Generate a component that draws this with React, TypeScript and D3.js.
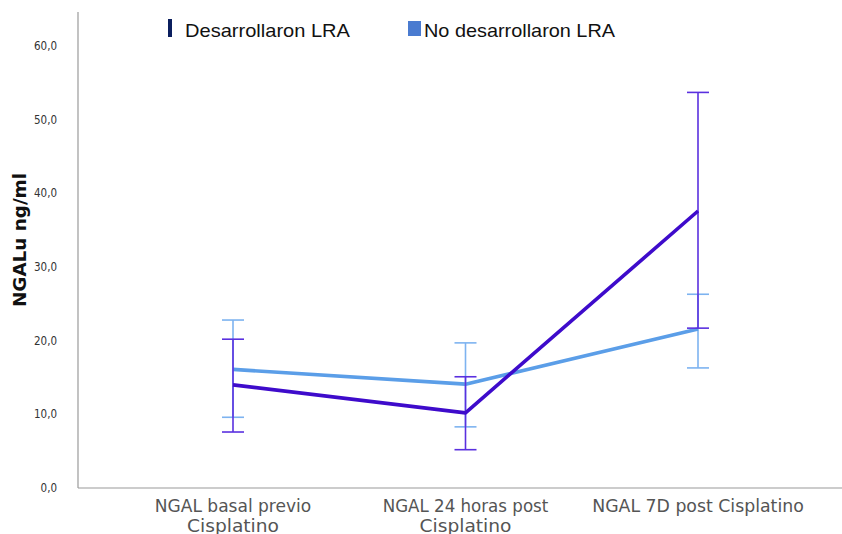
import React from "react";
import * as d3 from "d3";

const categories = ["NGAL basal previo|Cisplatino", "NGAL 24 horas post|Cisplatino", "NGAL 7D post Cisplatino"];
const seriesNames = ["Desarrollaron LRA", "No desarrollaron LRA"];
const lraMean = [14.0, 10.2, 37.6];
const lraLow = [7.6, 5.2, 21.7];
const lraHigh = [20.2, 15.1, 53.7];
const noLraMean = [16.1, 14.1, 21.6];
const noLraLow = [9.6, 8.3, 16.3];
const noLraHigh = [22.8, 19.7, 26.3];
const yTicks = [0, 10, 20, 30, 40, 50, 60];

const W = 842, H = 534;

export default function App() {
  const x = d3.scalePoint<string>().domain(categories).range([233, 698]);
  const y = d3.scaleLinear().domain([0, 60]).range([488, 46]);
  const line = d3.line<number>().x((_, i) => x(categories[i])!).y((d) => y(d));
  const fmt = (v: number) => v.toFixed(1).replace(".", ",");

  const series = [
    { mean: noLraMean, low: noLraLow, high: noLraHigh, line: "#5B9EE8", err: "#7DB3F0" },
    { mean: lraMean, low: lraLow, high: lraHigh, line: "#3E0BCB", err: "#5A30DF" },
  ];
  const labelFont = "DejaVu Sans Condensed, DejaVu Sans";

  return (
    <svg width={W} height={H} style={{ position: "absolute", left: 0, top: 0, background: "#fff" }}>
      <rect width={W} height={H} fill="#fff" />
      <line x1={78} x2={78} y1={12} y2={488} stroke="#9a9a9a" strokeWidth={1.2} />
      <line x1={78} x2={842} y1={488} y2={488} stroke="#9a9a9a" strokeWidth={1.2} />
      {yTicks.map((t) => (
        <text key={t} x={57} y={y(t) + 4} textAnchor="end" fontFamily={labelFont} fontSize={11.5} fill="#333">
          {fmt(t)}
        </text>
      ))}
      <text transform="translate(26,240) rotate(-90)" textAnchor="middle" fontFamily="DejaVu Sans" fontWeight="bold" fontSize={17} fill="#111" textLength={134} lengthAdjust="spacingAndGlyphs">
        NGALu  ng/ml
      </text>
      {categories.map((c) => {
        const parts = c.split("|");
        const lens = parts.length === 2 ? [parts[0].length * 9.2, parts[1].length * 9.2] : [parts[0].length * 9.2];
        return (
          <g key={c}>
            {parts.map((p, i) => (
              <text key={i} x={x(c)} y={512 + i * 19.5} textAnchor="middle" fontFamily={labelFont} fontSize={18} fill="#555" textLength={lens[i]} lengthAdjust="spacingAndGlyphs">
                {p}
              </text>
            ))}
          </g>
        );
      })}
      {series.map((s, si) => (
        <g key={si}>
          {s.mean.map((_, i) => {
            const cx = x(categories[i])!;
            return (
              <g key={i} stroke={s.err} strokeWidth={1.6}>
                <line x1={cx} x2={cx} y1={y(s.low[i])} y2={y(s.high[i])} />
                <line x1={cx - 11} x2={cx + 11} y1={y(s.low[i])} y2={y(s.low[i])} />
                <line x1={cx - 11} x2={cx + 11} y1={y(s.high[i])} y2={y(s.high[i])} />
              </g>
            );
          })}
          <path d={line(s.mean)!} fill="none" stroke={s.line} strokeWidth={3.6} strokeLinejoin="round" />
        </g>
      ))}
      <rect x={168} y={19} width={4} height={18} fill="#0B1F5E" />
      <text x={185} y={37} fontFamily="Liberation Sans" fontSize={19} fill="#111" textLength={165} lengthAdjust="spacingAndGlyphs">{seriesNames[0]}</text>
      <rect x={408} y={21} width={13} height={15} fill="#4A7BD0" />
      <text x={424} y={37} fontFamily="Liberation Sans" fontSize={19} fill="#111" textLength={191} lengthAdjust="spacingAndGlyphs">{seriesNames[1]}</text>
    </svg>
  );
}
